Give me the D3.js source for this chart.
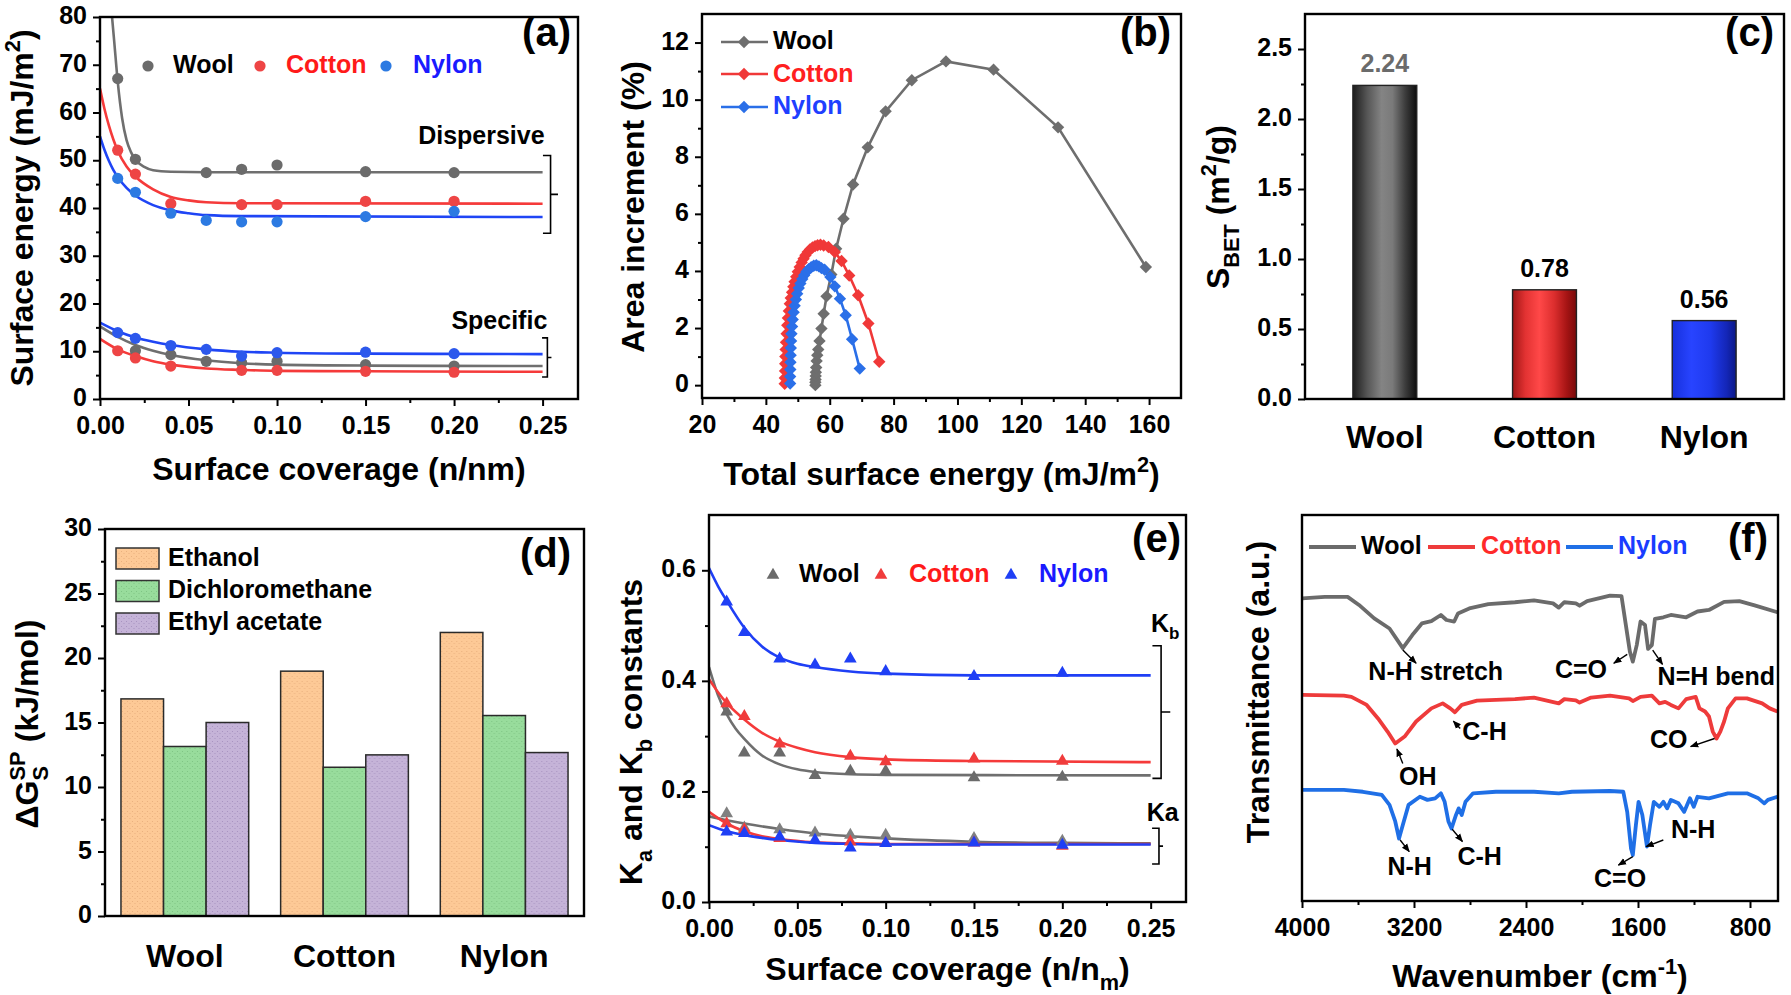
<!DOCTYPE html>
<html>
<head>
<meta charset="utf-8">
<script src="https://cdn.jsdelivr.net/npm/d3@7"></script>
<style>
  body { margin: 0; background: #fff; }
  svg { display: block; font-family: "Liberation Sans", Arial, sans-serif; font-weight: bold; }
</style>
</head>
<body>
<svg id="fig" width="1791" height="995"></svg>
<script>
"use strict";

// ---------------------------------------------------------------------------
// data

// (a) surface energy (mJ/m2) vs surface coverage
const dispWool   = [[0.01,67.1],[0.02,50.2],[0.06,47.4],[0.08,48.1],[0.10,49.0],[0.15,47.6],[0.20,47.4]];
const dispCotton = [[0.01,52.1],[0.02,47.1],[0.04,40.9],[0.08,40.7],[0.10,40.7],[0.15,41.4],[0.20,41.4]];
const dispNylon  = [[0.01,46.2],[0.02,43.3],[0.04,38.9],[0.06,37.4],[0.08,37.1],[0.10,37.1],[0.15,38.2],[0.20,39.3]];
const specWool   = [[0.02,10.1],[0.04,9.3],[0.06,7.9],[0.08,7.6],[0.10,7.9],[0.15,7.2],[0.20,6.9]];
const specCotton = [[0.01,10.1],[0.02,8.6],[0.04,6.9],[0.08,6.0],[0.10,6.0],[0.15,5.8],[0.20,5.6]];
const specNylon  = [[0.01,13.9],[0.02,12.7],[0.04,11.2],[0.06,10.4],[0.08,9.0],[0.10,9.7],[0.15,9.8],[0.20,9.5]];
// fitted curves as traced
const fitDispWool   = [[0.0068,80],[0.008,75],[0.01,66.5],[0.0125,58.8],[0.015,54.2],[0.0175,51.7],[0.02,50.1],[0.025,48.6],[0.03,47.9],[0.04,47.6],[0.06,47.5],[0.25,47.5]];
const fitDispCotton = [[0,65],[0.0025,60.8],[0.005,57.3],[0.0075,54.4],[0.01,52.0],[0.015,48.7],[0.02,46.6],[0.03,43.9],[0.04,42.3],[0.05,41.6],[0.06,41.2],[0.08,41.0],[0.25,40.9]];
const fitDispNylon  = [[0,55],[0.0025,52.2],[0.005,49.9],[0.0075,48.0],[0.01,46.5],[0.015,44.2],[0.02,42.6],[0.03,40.6],[0.04,39.5],[0.05,38.9],[0.06,38.5],[0.08,38.3],[0.25,38.1]];
const fitSpecWool   = [[0,15.2],[0.01,13.0],[0.02,11.3],[0.03,10.1],[0.04,9.2],[0.06,8.1],[0.08,7.5],[0.10,7.2],[0.15,7.0],[0.25,6.9]];
const fitSpecCotton = [[0,12.6],[0.01,10.4],[0.02,9.0],[0.03,7.9],[0.04,7.2],[0.06,6.4],[0.08,6.1],[0.10,5.9],[0.15,5.8],[0.25,5.7]];
const fitSpecNylon  = [[0,16.0],[0.01,14.2],[0.02,12.9],[0.03,12.0],[0.04,11.3],[0.06,10.4],[0.08,9.9],[0.10,9.7],[0.15,9.5],[0.25,9.4]];

// (b) area increment (%) vs total surface energy
const areaWool = [[55.5,0],[55.5,0.1],[55.55,0.2],[55.6,0.32],[55.65,0.45],[55.75,0.62],[55.9,0.85],[56.1,1.05],[56.4,1.25],
  [56.8,1.55],[57.4,1.98],[58.1,2.5],[59.0,3.11],[60.5,3.88],[62.0,4.78],[64.3,5.83],[67.3,7.03],[71.9,8.33],[77.5,9.59],
  [85.7,10.68],[96.4,11.34],[111.3,11.05],[131.5,9.03],[159.0,4.14]];
const areaCotton = [[45.9,0.05],[45.95,0.25],[46.0,0.5],[46.05,0.75],[46.1,1.0],[46.2,1.25],[46.3,1.5],[46.5,1.8],[46.7,2.1],
  [46.9,2.35],[47.2,2.6],[47.5,2.85],[47.8,3.05],[48.2,3.25],[48.6,3.45],[49.0,3.62],[49.5,3.8],[50.0,3.97],[50.6,4.14],
  [51.2,4.3],[51.8,4.43],[52.4,4.55],[53.1,4.66],[53.8,4.75],[54.6,4.82],[55.4,4.87],[56.2,4.9],[57.1,4.92],[58.1,4.89],
  [59.6,4.84],[61.6,4.66],[63.7,4.35],[66.1,3.84],[68.9,3.15],[72.1,2.16],[75.5,0.82]];
const areaNylon = [[47.6,0.06],[47.6,0.3],[47.65,0.55],[47.7,0.8],[47.75,1.05],[47.8,1.3],[47.9,1.55],[48.0,1.8],[48.2,2.05],
  [48.4,2.3],[48.7,2.55],[49.0,2.78],[49.4,3.0],[49.8,3.2],[50.3,3.4],[50.8,3.56],[51.4,3.72],[52.0,3.85],[52.7,3.97],
  [53.4,4.06],[54.2,4.13],[55.0,4.18],[55.8,4.2],[56.6,4.16],[57.4,4.1],[58.4,4.04],[60.2,3.79],[61.6,3.46],[63.2,3.03],
  [65.0,2.45],[67.0,1.61],[69.4,0.58]];

// (c) BET surface area
const fibres = ["Wool", "Cotton", "Nylon"];
const sbet = [2.24, 0.78, 0.56];

// (d) specific free energy (kJ/mol)
const solvents = ["Ethanol", "Dichloromethane", "Ethyl acetate"];
const gEthanol = [16.83, 18.98, 21.98];
const gDcm     = [13.14, 11.53, 15.54];
const gEthyl   = [15.00, 12.49, 12.67];

// (e) Ka / Kb vs coverage
const kbWool   = [[0.01,0.344],[0.02,0.270],[0.04,0.270],[0.06,0.229],[0.08,0.237],[0.10,0.237],[0.15,0.225],[0.20,0.226]];
const kbCotton = [[0.01,0.359],[0.02,0.336],[0.04,0.286],[0.08,0.264],[0.10,0.254],[0.15,0.259],[0.20,0.255]];
const kbNylon  = [[0.01,0.543],[0.02,0.488],[0.04,0.440],[0.06,0.429],[0.08,0.440],[0.10,0.417],[0.15,0.408],[0.20,0.414]];
const kaWool   = [[0.01,0.160],[0.02,0.134],[0.04,0.131],[0.06,0.125],[0.08,0.121],[0.10,0.121],[0.15,0.115],[0.20,0.110]];
const kaCotton = [[0.01,0.142],[0.02,0.131],[0.04,0.115],[0.08,0.109],[0.10,0.106],[0.15,0.107],[0.20,0.101]];
const kaNylon  = [[0.01,0.127],[0.02,0.124],[0.04,0.118],[0.06,0.112],[0.08,0.098],[0.10,0.106],[0.15,0.107],[0.20,0.103]];
const fitKbWool   = [[0,0.425],[0.005,0.375],[0.01,0.340],[0.015,0.314],[0.02,0.295],[0.03,0.265],[0.04,0.249],[0.05,0.240],[0.06,0.235],[0.08,0.231],[0.10,0.230],[0.25,0.229]];
const fitKbCotton = [[0,0.403],[0.005,0.380],[0.01,0.360],[0.02,0.330],[0.03,0.306],[0.04,0.290],[0.05,0.279],[0.06,0.271],[0.08,0.262],[0.10,0.258],[0.15,0.255],[0.25,0.253]];
const fitKbNylon  = [[0,0.604],[0.005,0.572],[0.01,0.545],[0.02,0.496],[0.03,0.462],[0.04,0.442],[0.05,0.431],[0.06,0.425],[0.08,0.417],[0.10,0.413],[0.15,0.410],[0.25,0.410]];
const fitKaWool   = [[0,0.155],[0.01,0.148],[0.02,0.142],[0.04,0.132],[0.06,0.124],[0.08,0.119],[0.10,0.115],[0.15,0.109],[0.20,0.107],[0.25,0.106]];
const fitKaCotton = [[0,0.163],[0.01,0.142],[0.02,0.128],[0.03,0.119],[0.04,0.114],[0.06,0.108],[0.08,0.106],[0.10,0.105],[0.25,0.105]];
const fitKaNylon  = [[0,0.139],[0.01,0.128],[0.02,0.121],[0.03,0.116],[0.04,0.112],[0.06,0.107],[0.08,0.105],[0.10,0.104],[0.25,0.104]];

// (f) FTIR spectra, [wavenumber, transmittance a.u.]
const irWool = [[4000,78.4],[3837,78.8],[3674,78.8],[3593,76.7],[3484,73.2],[3375,70.6],[3280,65.5],[3212,68.9],[3144,71.9],
  [3076,72.5],[3008,74.1],[2968,72.8],[2913,72.4],[2886,74.5],[2805,75.8],[2669,76.9],[2479,77.4],[2343,77.9],[2207,77.1],
  [2166,76.0],[2126,77.4],[2044,77.1],[2017,76.5],[1963,77.7],[1800,79.1],[1718,79.0],[1691,72.5],[1658,64.6],[1637,62.0],
  [1609,66.3],[1582,72.4],[1550,71.5],[1528,65.3],[1501,66.3],[1479,73.1],[1419,73.5],[1365,74.1],[1256,73.5],[1175,75.0],
  [1093,75.4],[985,77.5],[876,77.7],[767,76.6],[604,74.8]];
const irCotton = [[4000,53.4],[3701,53.2],[3647,52.9],[3538,50.8],[3457,47.3],[3389,43.9],[3334,40.8],[3267,42.6],[3185,46.5],
  [3076,49.9],[2995,51.2],[2941,49.9],[2908,48.9],[2859,50.8],[2750,51.9],[2479,52.3],[2343,52.7],[2166,51.2],[2126,52.3],
  [2044,52.0],[2017,51.4],[1935,52.7],[1800,53.2],[1664,52.5],[1637,51.8],[1582,52.9],[1501,53.2],[1447,51.2],[1406,51.6],
  [1365,50.8],[1311,49.9],[1256,52.3],[1188,52.9],[1161,49.9],[1121,49.1],[1093,47.8],[1066,43.9],[1039,42.1],[1012,43.9],
  [985,46.5],[958,49.9],[903,52.5],[822,52.5],[713,51.2],[659,49.9],[604,49.1]];
const irNylon = [[4000,28.8],[3701,28.8],[3565,28.3],[3430,27.5],[3375,24.9],[3334,20.6],[3307,16.2],[3280,19.7],[3239,24.9],
  [3158,27.0],[3104,26.2],[3049,26.6],[3008,27.9],[2981,25.7],[2954,20.6],[2932,18.8],[2900,22.3],[2881,24.0],[2859,22.3],
  [2832,25.7],[2778,27.9],[2615,28.3],[2343,28.3],[2166,27.9],[2071,28.3],[1800,28.5],[1705,28.3],[1677,23.1],[1650,13.6],
  [1637,11.9],[1615,19.7],[1596,25.7],[1569,22.3],[1536,14.1],[1514,19.7],[1487,25.7],[1447,24.4],[1419,25.7],[1392,24.0],
  [1365,26.2],[1311,25.3],[1270,23.1],[1229,26.6],[1202,24.4],[1175,27.0],[1093,26.6],[958,27.9],[822,27.9],[740,26.6],
  [698,25.3],[672,26.2],[604,27.0]];
// peak labels: [text, text wavenumber, text value, arrow from [w,v], arrow to [w,v]]
const irLabels = [
  ["N-H stretch", 3526, 57.3, [3280,65.0], [3185,61.6]],
  ["C=O",         2193, 57.8, [1677,63.9], [1773,61.6]],
  ["N=H bend",    1460, 56.0, [1495,65.0], [1425,61.3]],
  ["C-H",         2855, 41.7, [2870,44.7], [2919,46.6]],
  ["OH",          3307, 30.0, [3280,35.6], [3322,39.4]],
  ["CO",          1514, 39.6, [1053,42.1], [1224,40.0]],
  ["N-H",         3390,  6.7, [3299,15.8], [3234,12.8]],
  ["C-H",         2890,  9.3, [2927,18.6], [2854,15.4]],
  ["C=O",         1914,  3.7, [1637,11.5], [1740, 9.3]],
  ["N-H",         1365, 16.3, [1419,15.8], [1542,14.1]]
];

// tick values
const ticksCover = [0, 0.05, 0.10, 0.15, 0.20, 0.25];
const minorCover = [0.025, 0.075, 0.125, 0.175, 0.225];
const ticksEnergy = [0, 10, 20, 30, 40, 50, 60, 70, 80];
const minorEnergy = [5, 15, 25, 35, 45, 55, 65, 75];
const ticksTotal = [20, 40, 60, 80, 100, 120, 140, 160];
const minorTotal = [30, 50, 70, 90, 110, 130, 150];
const ticksArea = [0, 2, 4, 6, 8, 10, 12];
const minorArea = [1, 3, 5, 7, 9, 11];
const ticksBet = [0, 0.5, 1.0, 1.5, 2.0, 2.5];
const minorBet = [0.25, 0.75, 1.25, 1.75, 2.25];
const ticksG = [0, 5, 10, 15, 20, 25, 30];
const minorG = [2.5, 7.5, 12.5, 17.5, 22.5, 27.5];
const ticksK = [0, 0.2, 0.4, 0.6];
const minorK = [0.1, 0.3, 0.5];
const ticksWave = [4000, 3200, 2400, 1600, 800];
const minorWave = [3600, 2800, 2000, 1200];

// ---------------------------------------------------------------------------

const svg = d3.select("#fig");
const defs = svg.append("defs");

const LEG = { wool: "#000", cotton: "#ff1a1a", nylon: "#1a1aff" };

const clip = (id, box) => {
  defs.append("clipPath").attr("id", id).append("rect")
    .attr("x", box.l).attr("y", box.t).attr("width", box.r - box.l).attr("height", box.b - box.t);
  return `url(#${id})`;
};

const styleAxis = (sel, size) => {
  sel.attr("font-family", null).attr("font-size", null);
  sel.select(".domain").remove();
  sel.selectAll(".tick line").attr("stroke", "#000").attr("stroke-width", 2);
  sel.selectAll(".tick text").attr("fill", "#000")
    .style("font-size", size + "px").style("font-weight", "bold");
};

const xAxis = (g, box, x, major, minor, fmt) => {
  if (minor) g.append("g").attr("transform", `translate(0,${box.b})`)
    .call(d3.axisBottom(x).tickValues(minor).tickSize(4).tickFormat(""))
    .call(styleAxis, 25);
  g.append("g").attr("transform", `translate(0,${box.b})`)
    .call(d3.axisBottom(x).tickValues(major).tickSize(7).tickPadding(10).tickFormat(fmt))
    .call(styleAxis, 25);
};

const yAxis = (g, box, y, major, minor, fmt) => {
  g.append("g").attr("transform", `translate(${box.l},0)`)
    .call(d3.axisLeft(y).tickValues(minor).tickSize(4).tickFormat(""))
    .call(styleAxis, 25);
  g.append("g").attr("transform", `translate(${box.l},0)`)
    .call(d3.axisLeft(y).tickValues(major).tickSize(7).tickPadding(6).tickFormat(fmt))
    .call(styleAxis, 25)
    .call(s => s.selectAll(".tick text").attr("dy", "0.26em"));
};

const border = (g, box) => g.append("rect")
  .attr("x", box.l).attr("y", box.t).attr("width", box.r - box.l).attr("height", box.b - box.t)
  .attr("fill", "none").attr("stroke", "#000").attr("stroke-width", 2.4);

// text with sub / superscript parts
const rich = (t, parts, size) => {
  let shift = 0;
  parts.forEach(p => {
    const target = p.sub ? size * 0.3 : p.sup ? -size * 0.42 : 0;
    const ts = t.append("tspan").text(p.t).attr("dy", target - shift)
      .style("font-size", (p.sub || p.sup) ? (size * 0.68) + "px" : size + "px");
    if (p.dx) ts.attr("dx", p.dx);
    shift = target;
  });
  return t;
};

const title = (g, x, y, parts, rotate) => {
  const t = g.append("text").attr("text-anchor", "middle").attr("fill", "#000");
  if (rotate) t.attr("transform", `translate(${x},${y}) rotate(-90)`);
  else t.attr("x", x).attr("y", y);
  return rich(t, parts, 32);
};

const label = (g, x, y, s, size, color, anchor) => g.append("text")
  .attr("x", x).attr("y", y).attr("text-anchor", anchor || "start")
  .attr("fill", color || "#000").style("font-size", size + "px").text(s);

const bracket = (g, xs, ys, xl, xv, xt, y0, y1) => {
  const ym = (y0 + y1) / 2;
  g.append("path").attr("fill", "none").attr("stroke", "#000").attr("stroke-width", 1.6)
    .attr("d", `M${xs(xl)},${ys(y0)}H${xs(xv)}V${ys(y1)}H${xs(xl)}M${xs(xv)},${ys(ym)}H${xs(xt)}`);
};

// ---------------------------------------------------------------------------
// (a)
{
  const box = { l: 100, r: 578, t: 17, b: 399 };
  const x = d3.scaleLinear().domain([0, 0.27]).range([box.l, box.r]);
  const y = d3.scaleLinear().domain([0, 80]).range([box.b, box.t]);
  const g = svg.append("g");
  const line = d3.line().x(d => x(d[0])).y(d => y(d[1])).curve(d3.curveMonotoneX);

  const fits = [
    [fitDispWool, "#6f6f6f"], [fitDispCotton, "#f53a3a"], [fitDispNylon, "#1f45f5"],
    [fitSpecWool, "#6f6f6f"], [fitSpecCotton, "#f53a3a"], [fitSpecNylon, "#1f45f5"]
  ];
  g.append("g").attr("clip-path", clip("clipA", box))
    .selectAll("path").data(fits).join("path")
    .attr("d", d => line(d[0])).attr("fill", "none").attr("stroke", d => d[1]).attr("stroke-width", 2.6);

  const pts = [
    [dispWool, "#6b6b6b"], [dispCotton, "#ee4545"], [dispNylon, "#2c7ae2"],
    [specWool, "#6b6b6b"], [specCotton, "#ee4545"], [specNylon, "#2c58ec"]
  ];
  pts.forEach(([data, c]) => g.append("g").selectAll("circle").data(data).join("circle")
    .attr("cx", d => x(d[0])).attr("cy", d => y(d[1])).attr("r", 5.6).attr("fill", c));

  xAxis(g, box, x, ticksCover, minorCover, d3.format(".2f"));
  yAxis(g, box, y, ticksEnergy, minorEnergy, d3.format("d"));
  border(g, box);

  [["Wool", 148, 173, "#6b6b6b", LEG.wool], ["Cotton", 260, 286, "#ee4545", LEG.cotton],
   ["Nylon", 386, 413, "#2c7ae2", LEG.nylon]].forEach(([s, cx, tx, c, tc]) => {
    g.append("circle").attr("cx", cx).attr("cy", 66).attr("r", 5.6).attr("fill", c);
    label(g, tx, 73, s, 25, tc);
  });

  label(g, x(0.1797), y(53.5), "Dispersive", 25);
  label(g, x(0.1985), y(14.7), "Specific", 25);
  bracket(g, x, y, 0.2502, 0.2545, 0.2587, 51.0, 34.7);
  bracket(g, x, y, 0.2497, 0.2527, 0.2550, 12.8, 4.6);

  label(g, 571, 46, "(a)", 40, "#000", "end");
  title(g, (box.l + box.r) / 2, 480, [{ t: "Surface coverage (n/nm)" }]);
  title(g, 33, 208, [{ t: "Surface energy (mJ/m" }, { t: "2", sup: true }, { t: ")" }], true);
}

// ---------------------------------------------------------------------------
// (b)
{
  const box = { l: 702, r: 1181, t: 14, b: 398 };
  const x = d3.scaleLinear().domain([20, 170]).range([box.l, box.r]);
  const y = d3.scaleLinear().domain([-0.45, 13]).range([box.b, box.t]);
  const g = svg.append("g");
  const line = d3.line().x(d => x(d[0])).y(d => y(d[1]));
  const diamond = "M0,-6.2L6.2,0L0,6.2L-6.2,0Z";

  const series = [[areaWool, "#6e6e6e"], [areaCotton, "#f03838"], [areaNylon, "#2a6fe8"]];
  series.forEach(([data, c]) => {
    g.append("path").attr("d", line(data)).attr("fill", "none").attr("stroke", c).attr("stroke-width", 2.6);
    g.append("g").selectAll("path").data(data).join("path")
      .attr("transform", d => `translate(${x(d[0])},${y(d[1])})`).attr("d", diamond).attr("fill", c);
  });

  xAxis(g, box, x, ticksTotal, minorTotal, d3.format("d"));
  yAxis(g, box, y, ticksArea, minorArea, d3.format("d"));
  border(g, box);

  [["Wool", 42, 49, "#6e6e6e", LEG.wool], ["Cotton", 74, 82, "#f03838", "#ff2020"],
   ["Nylon", 107, 114, "#2a6fe8", "#1f3fff"]].forEach(([s, ly, ty, c, tc]) => {
    g.append("line").attr("x1", 721).attr("x2", 768).attr("y1", ly).attr("y2", ly)
      .attr("stroke", c).attr("stroke-width", 2.6);
    g.append("path").attr("transform", `translate(744,${ly})`).attr("d", diamond).attr("fill", c);
    label(g, 773, ty, s, 25, tc);
  });

  label(g, 1171, 46, "(b)", 40, "#000", "end");
  title(g, (box.l + box.r) / 2, 485, [{ t: "Total surface energy (mJ/m" }, { t: "2", sup: true }, { t: ")" }]);
  title(g, 644, 207, [{ t: "Area increment (%)" }], true);
}

// ---------------------------------------------------------------------------
// (c)
{
  const box = { l: 1305, r: 1784, t: 14, b: 399 };
  const x = d3.scaleBand().domain(fibres).range([box.l, box.r]).paddingInner(0.6).paddingOuter(0.3);
  const y = d3.scaleLinear().domain([0, 2.75]).range([box.b, box.t]);
  const g = svg.append("g");

  const grads = {
    Wool:   [[0, "#1c1c1c"], [0.22, "#555"], [0.45, "#848484"], [0.62, "#7a7a7a"], [0.82, "#3c3c3c"], [1, "#0d0d0d"]],
    Cotton: [[0, "#a01616"], [0.2, "#e23232"], [0.42, "#ff4848"], [0.65, "#dc2e2e"], [0.85, "#a51414"], [1, "#780a0a"]],
    Nylon:  [[0, "#1630dc"], [0.3, "#2844ff"], [0.6, "#1f3aee"], [0.85, "#1426b8"], [1, "#0b1886"]]
  };
  fibres.forEach(f => {
    defs.append("linearGradient").attr("id", "bar" + f).attr("x1", 0).attr("x2", 1).attr("y1", 0).attr("y2", 0)
      .selectAll("stop").data(grads[f]).join("stop")
      .attr("offset", d => d[0]).attr("stop-color", d => d[1]);
  });

  g.selectAll("rect.bar").data(fibres).join("rect").attr("class", "bar")
    .attr("x", d => x(d)).attr("width", x.bandwidth())
    .attr("y", (d, i) => y(sbet[i])).attr("height", (d, i) => y(0) - y(sbet[i]))
    .attr("fill", d => `url(#bar${d})`).attr("stroke", "#222").attr("stroke-width", 1.4);

  g.selectAll("text.val").data(fibres).join("text").attr("class", "val")
    .attr("x", d => x(d) + x.bandwidth() / 2).attr("y", (d, i) => y(sbet[i]) - 13)
    .attr("text-anchor", "middle").attr("fill", (d, i) => i === 0 ? "#6b6b6b" : "#000")
    .style("font-size", "25px").text((d, i) => sbet[i].toFixed(2));

  yAxis(g, box, y, ticksBet, minorBet, d3.format(".1f"));
  g.append("g").attr("transform", `translate(0,${box.b})`)
    .call(d3.axisBottom(x).tickSize(0).tickPadding(26))
    .call(styleAxis, 32);
  border(g, box);

  label(g, 1774, 46, "(c)", 40, "#000", "end");
  title(g, 1229, 207, [{ t: "S" }, { t: "BET", sub: true }, { t: " (m" }, { t: "2", sup: true }, { t: "/g)" }], true);
}

// ---------------------------------------------------------------------------
// (d)
{
  const box = { l: 105, r: 584, t: 529, b: 916 };
  const x = d3.scaleBand().domain(fibres).range([box.l, box.r]).paddingInner(0.2).paddingOuter(0.1);
  const xs = d3.scaleBand().domain(solvents).range([0, x.bandwidth()]);
  const y = d3.scaleLinear().domain([0, 30]).range([box.b, box.t]);
  const g = svg.append("g");
  const fills = ["#fdc996", "#98dc9c", "#c5b3d8"];
  const dots = ["#e9b07e", "#7fc484", "#a893c0"];
  const vals = [gEthanol, gDcm, gEthyl];

  // faint stipple like the original fills
  fills.forEach((f, j) => {
    const p = defs.append("pattern").attr("id", "dot" + j).attr("patternUnits", "userSpaceOnUse")
      .attr("width", 5).attr("height", 5);
    p.append("rect").attr("width", 5).attr("height", 5).attr("fill", f);
    p.append("rect").attr("x", 1).attr("y", 1).attr("width", 1).attr("height", 1).attr("fill", dots[j]);
    p.append("rect").attr("x", 3.5).attr("y", 3).attr("width", 1).attr("height", 1).attr("fill", dots[j]);
  });

  const groups = g.selectAll("g.grp").data(fibres).join("g").attr("class", "grp")
    .attr("transform", d => `translate(${x(d)},0)`);
  groups.selectAll("rect").data((d, i) => solvents.map((s, j) => ({ s, v: vals[j][i], j }))).join("rect")
    .attr("x", d => xs(d.s)).attr("width", xs.bandwidth())
    .attr("y", d => y(d.v)).attr("height", d => y(0) - y(d.v))
    .attr("fill", d => `url(#dot${d.j})`).attr("stroke", "#2a2a2a").attr("stroke-width", 1.5);

  yAxis(g, box, y, ticksG, minorG, d3.format("d"));
  g.append("g").attr("transform", `translate(0,${box.b})`)
    .call(d3.axisBottom(x).tickSize(0).tickPadding(28))
    .call(styleAxis, 32);
  border(g, box);

  solvents.forEach((s, j) => {
    g.append("rect").attr("x", 116).attr("y", 548 + j * 32.5).attr("width", 43).attr("height", 21)
      .attr("fill", `url(#dot${j})`).attr("stroke", "#333").attr("stroke-width", 1.5);
    label(g, 168, 566 + j * 32.2, s, 25);
  });

  label(g, 571, 567, "(d)", 40, "#000", "end");
  title(g, 38, 724, [{ t: "ΔG" }, { t: "SP", sup: true }, { t: "S", sub: true, dx: -29 }, { t: " (kJ/mol)", dx: 15 }], true);
}

// ---------------------------------------------------------------------------
// (e)
{
  const box = { l: 709, r: 1186, t: 515, b: 902 };
  const x = d3.scaleLinear().domain([0, 0.27]).range([box.l, box.r]);
  const y = d3.scaleLinear().domain([0, 0.7]).range([box.b, box.t]);
  const g = svg.append("g");
  const line = d3.line().x(d => x(d[0])).y(d => y(d[1])).curve(d3.curveMonotoneX);
  const tri = d3.symbol(d3.symbolTriangle, 70)();

  const fits = [
    [fitKbWool, "#6f6f6f"], [fitKbCotton, "#f53a3a"], [fitKbNylon, "#1f3ff5"],
    [fitKaWool, "#6f6f6f"], [fitKaCotton, "#f53a3a"], [fitKaNylon, "#1f3ff5"]
  ];
  g.append("g").attr("clip-path", clip("clipE", box))
    .selectAll("path").data(fits).join("path")
    .attr("d", d => line(d[0])).attr("fill", "none").attr("stroke", d => d[1]).attr("stroke-width", 2.6);

  const pts = [
    [kbWool, "#6b6b6b"], [kbCotton, "#f03c3c"], [kbNylon, "#1f3ff5"],
    [kaWool, "#808080"], [kaCotton, "#f03c3c"], [kaNylon, "#1f3ff5"]
  ];
  pts.forEach(([data, c]) => g.append("g").selectAll("path").data(data).join("path")
    .attr("transform", d => `translate(${x(d[0])},${y(d[1])})`).attr("d", tri).attr("fill", c));

  xAxis(g, box, x, ticksCover, minorCover, d3.format(".2f"));
  yAxis(g, box, y, ticksK, minorK, d3.format(".1f"));
  border(g, box);

  [["Wool", 773, 799, "#6b6b6b", LEG.wool], ["Cotton", 881, 909, "#f03c3c", LEG.cotton],
   ["Nylon", 1011, 1039, "#1f3ff5", LEG.nylon]].forEach(([s, cx, tx, c, tc]) => {
    g.append("path").attr("transform", `translate(${cx},575)`).attr("d", tri).attr("fill", c);
    label(g, tx, 582, s, 25, tc);
  });

  rich(g.append("text").attr("x", x(0.2502)).attr("y", y(0.4889)), [{ t: "K" }, { t: "b", sub: true }], 25);
  label(g, x(0.2478), y(0.1465), "Ka", 25);
  bracket(g, x, y, 0.2510, 0.2559, 0.2611, 0.4636, 0.2237);
  bracket(g, x, y, 0.2508, 0.2547, 0.2570, 0.1333, 0.0687);

  label(g, 1181, 552, "(e)", 40, "#000", "end");
  title(g, (box.l + box.r) / 2, 980, [{ t: "Surface coverage (n/n" }, { t: "m", sub: true }, { t: ")" }]);
  title(g, 642, 732, [{ t: "K" }, { t: "a", sub: true }, { t: " and K" }, { t: "b", sub: true }, { t: " constants" }], true);
}

// ---------------------------------------------------------------------------
// (f)
{
  const box = { l: 1302, r: 1778, t: 515, b: 901 };
  const x = d3.scaleLinear().domain([4000, 600]).range([box.l, box.r]);
  const y = d3.scaleLinear().domain([0, 100]).range([box.b, box.t]);
  const g = svg.append("g");
  const line = d3.line().x(d => x(d[0])).y(d => y(d[1]));

  defs.append("marker").attr("id", "arrow").attr("viewBox", "0 0 10 10").attr("refX", 9).attr("refY", 5)
    .attr("markerWidth", 6).attr("markerHeight", 6).attr("orient", "auto")
    .append("path").attr("d", "M0,1L10,5L0,9Z").attr("fill", "#000");

  const spectra = [[irWool, "#6b6b6b"], [irCotton, "#ee3b3b"], [irNylon, "#1f6fe6"]];
  g.append("g").attr("clip-path", clip("clipF", box))
    .selectAll("path").data(spectra).join("path")
    .attr("d", d => line(d[0])).attr("fill", "none").attr("stroke", d => d[1])
    .attr("stroke-width", 3.8).attr("stroke-linejoin", "round");

  irLabels.forEach(([s, tw, tv, a, b]) => {
    g.append("line").attr("x1", x(a[0])).attr("y1", y(a[1])).attr("x2", x(b[0])).attr("y2", y(b[1]))
      .attr("stroke", "#000").attr("stroke-width", 1.4).attr("marker-end", "url(#arrow)");
    label(g, x(tw), y(tv), s, 25);
  });

  xAxis(g, box, x, ticksWave, minorWave, d3.format("d"));
  border(g, box);

  [["Wool", 1309, 1361, "#6b6b6b", LEG.wool], ["Cotton", 1428, 1481, "#ee3b3b", "#ff2a2a"],
   ["Nylon", 1566, 1618, "#1f6fe6", "#1a3cff"]].forEach(([s, lx, tx, c, tc]) => {
    g.append("line").attr("x1", lx).attr("x2", lx + 47).attr("y1", 547).attr("y2", 547)
      .attr("stroke", c).attr("stroke-width", 4);
    label(g, tx, 554, s, 25, tc);
  });

  label(g, 1768, 552, "(f)", 40, "#000", "end");
  title(g, (box.l + box.r) / 2, 987, [{ t: "Wavenumber (cm" }, { t: "-1", sup: true }, { t: ")" }]);
  title(g, 1269, 692, [{ t: "Transmittance (a.u.)" }], true);
}
</script>
</body>
</html>
